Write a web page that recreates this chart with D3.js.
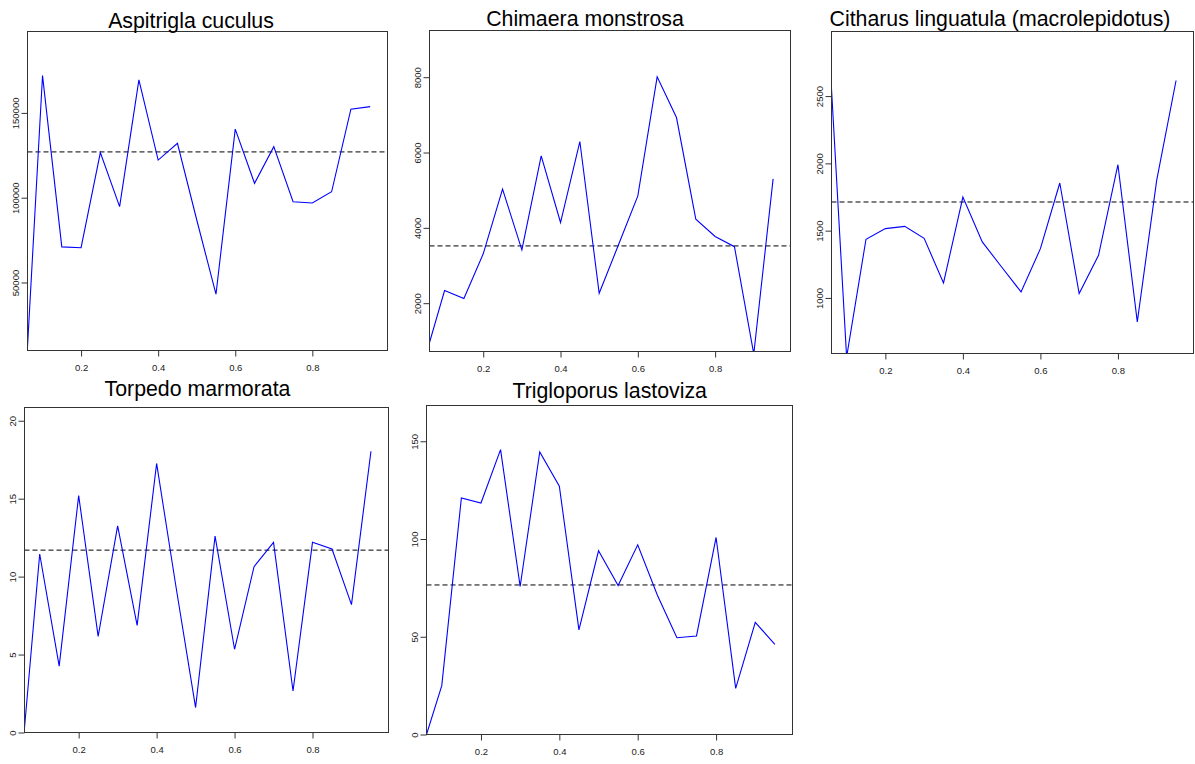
<!DOCTYPE html>
<html>
<head>
<meta charset="utf-8">
<script src="https://cdn.jsdelivr.net/npm/d3@7"></script>
<style>
  body { margin: 0; background: #fff; }
  svg { display: block; font-family: "Liberation Sans", Arial, sans-serif; }
  .tick-label { font-size: 9.5px; fill: #222; }
  .title { font-size: 21.3px; fill: #000; }
</style>
</head>
<body>
<div id="chart"></div>
<script>
/* multi-panel line chart, one panel per species */

const width = 1195,
    height = 764;

// data
const titles = ["Aspitrigla cuculus", "Chimaera monstrosa", "Citharus linguatula (macrolepidotus)",
    "Torpedo marmorata", "Trigloporus lastoviza"];

const xValues = [0.061, 0.1, 0.15, 0.2, 0.25, 0.3, 0.35, 0.4, 0.45, 0.5,
    0.55, 0.6, 0.65, 0.7, 0.75, 0.8, 0.85, 0.9, 0.95];
const xTicks = [0.2, 0.4, 0.6, 0.8];

const aspitrigla = [12000, 172000, 71000, 70500, 126600, 94700, 169500, 122200, 132100, 87000,
    43100, 140400, 108500, 130100, 97600, 96900, 103500, 152200, 153700];
const chimaera = [956, 2336, 2124, 3310, 5027, 3416, 5912, 4142, 6292, 2265,
    3550, 4850, 8009, 6929, 4230, 3770, 3500, 650, 5300];
const citharus = [2554, 560, 1436, 1515, 1532, 1443, 1111, 1750, 1416, 1230,
    1045, 1366, 1854, 1032, 1317, 1990, 822, 1874, 2616];
const torpedo = [0.3, 11.45, 4.26, 15.2, 6.17, 13.26, 6.87, 17.26, 9.3, 1.6,
    12.6, 5.34, 10.64, 12.2, 2.66, 12.2, 11.77, 8.2, 18.04];
const trigloporus = [0, 25, 121, 118.4, 145.7, 75.7, 144.5, 127, 53.5, 94,
    76.2, 97, 71.4, 49.5, 50.4, 100.8, 23.6, 57.4, 46.1];

const means = [127000, 3520, 1713, 11.7, 76.5];

const yDomains = [[9900, 198000], [717, 9240], [587, 2980], [0, 20.85], [0, 168.3]];
const yTicks = [
    [50000, 100000, 150000],
    [2000, 4000, 6000, 8000],
    [1000, 1500, 2000, 2500],
    [0, 5, 10, 15, 20],
    [0, 50, 100, 150]
];

const series = [aspitrigla, chimaera, citharus, torpedo, trigloporus];

// panel boxes in pixels (layout only)
const layout = [
    { left: 27.5, right: 387.5, top: 31.5, bottom: 350.5, tx: 191, ty: 27.5 },
    { left: 429.5, right: 790.5, top: 30.5, bottom: 351.5, tx: 585, ty: 25.7 },
    { left: 831.5, right: 1193.5, top: 31.5, bottom: 353.5, tx: 1000, ty: 26 },
    { left: 24.5, right: 388.5, top: 407.5, bottom: 732.5, tx: 197.5, ty: 395.7 },
    { left: 426.5, right: 792.5, top: 405.5, bottom: 734.5, tx: 609.7, ty: 397.5 }
];

const svg = d3.select("#chart")
    .append("svg")
    .attr("width", width)
    .attr("height", height)
    .attr("viewBox", [0, 0, width, height]);

series.forEach((values, i) => {
    const box = layout[i];

    let x = d3.scaleLinear()
        .domain([0.061, 0.995])
        .range([box.left, box.right]);

    let y = d3.scaleLinear()
        .domain(yDomains[i])
        .range([box.bottom, box.top]);

    const g = svg.append("g");

    // clip so lines stop at the box like R does
    g.append("clipPath")
        .attr("id", "clip" + i)
        .append("rect")
        .attr("x", box.left)
        .attr("y", box.top)
        .attr("width", box.right - box.left)
        .attr("height", box.bottom - box.top);

    /* mean line */
    g.append("line")
        .attr("clip-path", `url(#clip${i})`)
        .attr("x1", box.left)
        .attr("x2", box.right)
        .attr("y1", y(means[i]))
        .attr("y2", y(means[i]))
        .attr("stroke", "#000")
        .attr("stroke-width", 1)
        .attr("stroke-dasharray", "5,3");

    /* the series line */
    let line = d3.line()
        .x((d, j) => x(xValues[j]))
        .y(d => y(d));

    g.append("path")
        .datum(values)
        .attr("clip-path", `url(#clip${i})`)
        .attr("d", line)
        .attr("fill", "none")
        .attr("stroke", "#0000ff")
        .attr("stroke-width", 1.1);

    /* box */
    g.append("rect")
        .attr("x", box.left)
        .attr("y", box.top)
        .attr("width", box.right - box.left)
        .attr("height", box.bottom - box.top)
        .attr("fill", "none")
        .attr("stroke", "#333")
        .attr("stroke-width", 1);

    /* x axis ticks */
    const xAxis = g.append("g")
        .attr("transform", `translate(0,${box.bottom})`)
        .call(d3.axisBottom(x).tickValues(xTicks).tickSize(6).tickSizeOuter(0).tickFormat(d3.format(".1f")));
    xAxis.select(".domain").remove();
    xAxis.selectAll(".tick line").attr("stroke", "#333");
    xAxis.selectAll(".tick text")
        .attr("class", "tick-label")
        .attr("font-family", null)
        .attr("font-size", null)
        .attr("y", 14);

    /* y axis ticks, labels turned up like R */
    const yAxis = g.append("g")
        .attr("transform", `translate(${box.left},0)`)
        .call(d3.axisLeft(y).tickValues(yTicks[i]).tickSize(6).tickSizeOuter(0).tickFormat(d3.format("d")));
    yAxis.select(".domain").remove();
    yAxis.selectAll(".tick line").attr("stroke", "#333");
    yAxis.selectAll(".tick text")
        .attr("class", "tick-label")
        .attr("font-family", null)
        .attr("font-size", null)
        .attr("x", null)
        .attr("dy", null)
        .attr("text-anchor", "middle")
        .attr("dominant-baseline", "central")
        .attr("transform", "translate(-12,0) rotate(-90)");

    /* title */
    g.append("text")
        .attr("class", "title")
        .attr("x", box.tx)
        .attr("y", box.ty)
        .attr("text-anchor", "middle")
        .text(titles[i]);
});
</script>
</body>
</html>
